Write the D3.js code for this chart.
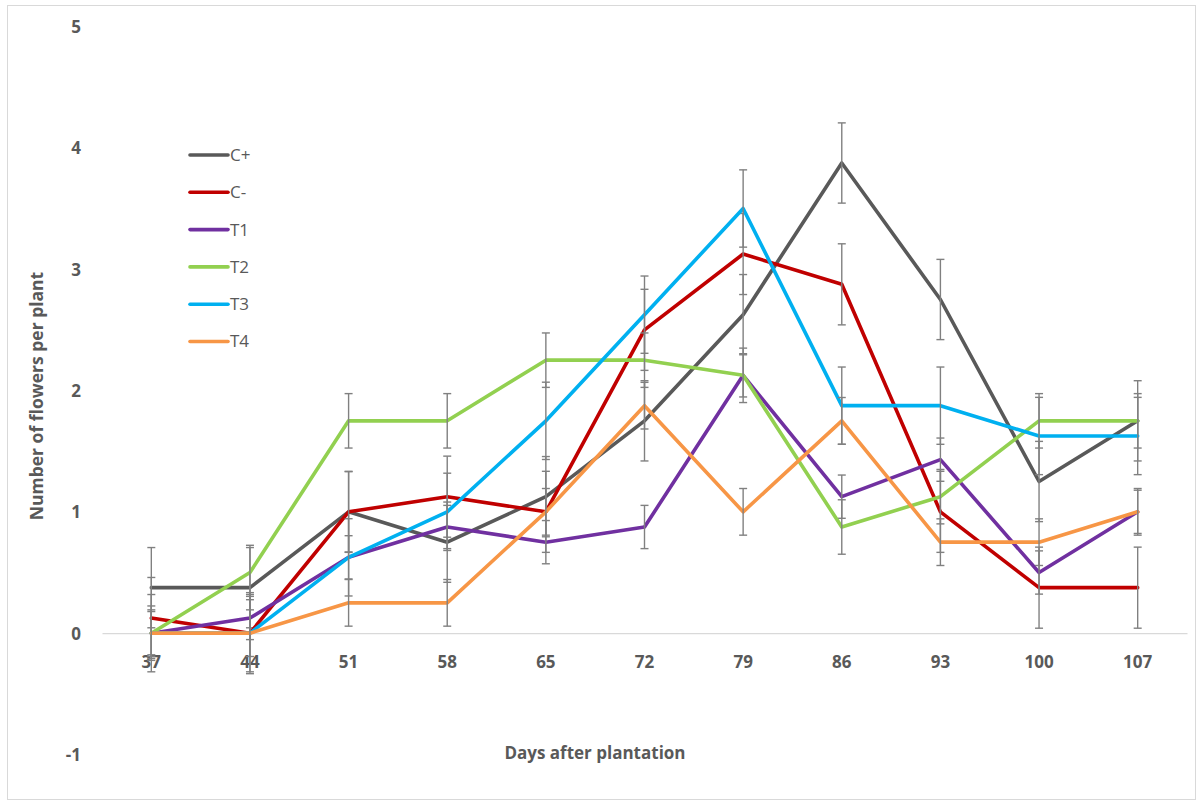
<!DOCTYPE html>
<html>
<head>
<meta charset="utf-8">
<script src="https://cdn.jsdelivr.net/npm/d3@7"></script>
<style>
  html, body { margin: 0; padding: 0; background: #fff; }
  svg { display: block; font-family: "Open Sans", "DejaVu Sans", sans-serif; }
</style>
</head>
<body>
<svg id="chart" width="1201" height="803"></svg>
<script>
// Sampling days after plantation
const days = [37, 44, 51, 58, 65, 72, 79, 86, 93, 100, 107];

// Mean number of flowers per plant for each treatment
const cPlus  = [0.375, 0.375, 1, 0.75, 1.125, 1.75, 2.625, 3.875, 2.75, 1.25, 1.75];
const cMinus = [0.125, 0, 1, 1.125, 1, 2.5, 3.125, 2.875, 1, 0.375, 0.375];
const t1     = [0, 0.125, 0.625, 0.875, 0.75, 0.875, 2.125, 1.125, 1.43, 0.5, 1];
const t2     = [0, 0.5, 1.75, 1.75, 2.25, 2.25, 2.125, 0.875, 1.125, 1.75, 1.75];
const t3     = [0, 0, 0.625, 1, 1.75, 2.625, 3.5, 1.875, 1.875, 1.625, 1.625];
const t4     = [0, 0, 0.25, 0.25, 1, 1.875, 1, 1.75, 0.75, 0.75, 1];

const seriesNames = ["C+", "C-", "T1", "T2", "T3", "T4"];
const seriesValues = [cPlus, cMinus, t1, t2, t3, t4];
const seriesColors = ["#595959", "#C00000", "#7030A0", "#92D050", "#00B0F0", "#F79646"];

const yTicks = [-1, 0, 1, 2, 3, 4, 5];

const svg = d3.select("#chart");
const textColor = "#595959";

// Outer chart frame
svg.append("rect")
  .attr("x", 7.5).attr("y", 5.5)
  .attr("width", 1188).attr("height", 794)
  .attr("fill", "#fff")
  .attr("stroke", "#d9d9d9")
  .attr("stroke-width", 1);

const x = d3.scaleBand().domain(days).range([102, 1187]);
const y = d3.scaleLinear().domain([-1, 5]).range([754.5, 26.5]);
const cx = d => x(d) + x.bandwidth() / 2;

// Value axis (labels only), plain hyphen for negatives
const yAxis = svg.append("g")
  .attr("transform", "translate(81,0)")
  .call(d3.axisLeft(y).tickValues(yTicks).tickSize(0).tickPadding(0).tickFormat(d => String(d)));
yAxis.select(".domain").remove();
yAxis.selectAll("text")
  .attr("fill", textColor)
  .attr("font-size", 17)
  .attr("font-weight", "bold")
  .attr("font-family", "'Open Sans', sans-serif")
  .attr("dy", "0.35em");

// Category axis crossing at zero
const xAxis = svg.append("g")
  .attr("transform", `translate(0,${y(0)})`)
  .call(d3.axisBottom(x).tickSize(0).tickSizeOuter(0).tickPadding(0));
xAxis.select(".domain").attr("stroke", "#d9d9d9").attr("stroke-width", 1.2);
xAxis.selectAll("text")
  .attr("fill", textColor)
  .attr("font-size", 17)
  .attr("font-weight", "bold")
  .attr("font-family", "'Open Sans', sans-serif")
  .attr("y", 29)
  .attr("dy", "0.35em");

// Series lines with standard-error bars
const line = d3.line().x((d, i) => cx(days[i])).y(d => y(d));
seriesValues.forEach((vals, k) => {
  const g = svg.append("g");
  g.append("path")
    .datum(vals)
    .attr("d", line)
    .attr("fill", "none")
    .attr("stroke", seriesColors[k])
    .attr("stroke-width", 3.6)
    .attr("stroke-linejoin", "round")
    .attr("stroke-linecap", "round");

  const se = d3.deviation(vals) / Math.sqrt(vals.length);
  const eb = g.selectAll("g.err").data(vals).join("g").attr("class", "err")
    .attr("stroke", "#808080").attr("stroke-width", 1.4);
  eb.append("line")
    .attr("x1", (d, i) => cx(days[i])).attr("x2", (d, i) => cx(days[i]))
    .attr("y1", d => y(d + se)).attr("y2", d => y(d - se));
  [1, -1].forEach(s => {
    eb.append("line")
      .attr("x1", (d, i) => cx(days[i]) - 4).attr("x2", (d, i) => cx(days[i]) + 4)
      .attr("y1", d => y(d + s * se)).attr("y2", d => y(d + s * se));
  });
});

// Legend
const legend = svg.append("g").attr("transform", "translate(190,155)");
seriesNames.forEach((name, k) => {
  const row = legend.append("g").attr("transform", `translate(0,${k * 37.3})`);
  row.append("line")
    .attr("x1", 0).attr("x2", 38).attr("y1", 0).attr("y2", 0)
    .attr("stroke", seriesColors[k]).attr("stroke-width", 3.6)
    .attr("stroke-linecap", "round");
  row.append("text")
    .attr("x", 40).attr("y", 0).attr("dy", "0.35em")
    .attr("fill", textColor)
    .attr("font-size", 17)
    .text(name);
});

// Axis titles
svg.append("text")
  .attr("x", 595).attr("y", 753).attr("dy", "0.35em")
  .attr("text-anchor", "middle")
  .attr("fill", textColor)
  .attr("font-size", 17)
  .attr("font-weight", "bold")
  .text("Days after plantation");

svg.append("text")
  .attr("transform", "translate(37,396) rotate(-90)")
  .attr("dy", "0.35em")
  .attr("text-anchor", "middle")
  .attr("fill", textColor)
  .attr("font-size", 17.5)
  .attr("font-weight", "bold")
  .text("Number of flowers per plant");
</script>
</body>
</html>
